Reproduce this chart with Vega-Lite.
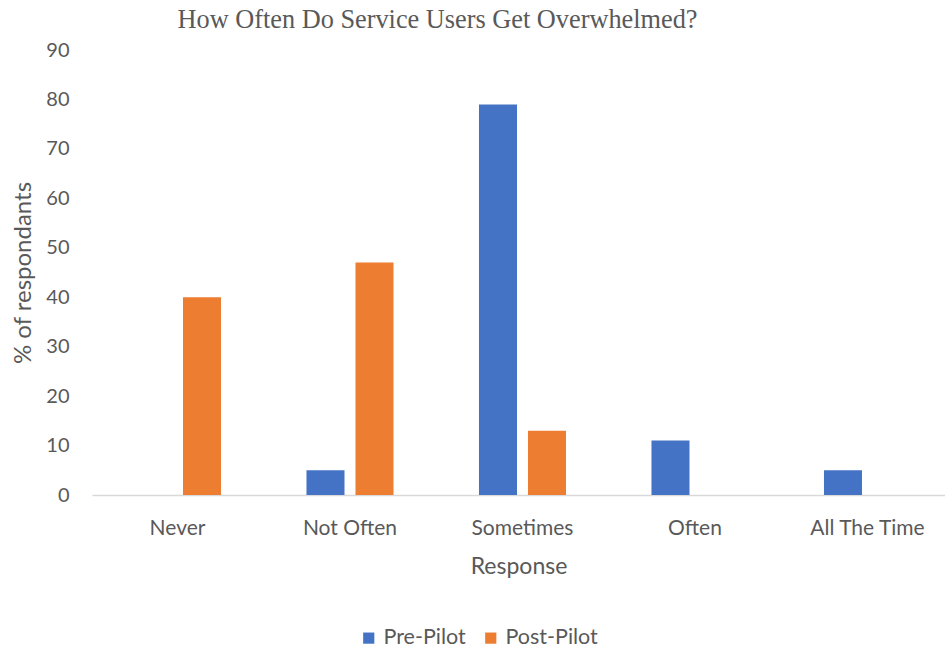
{
  "$schema": "https://vega.github.io/schema/vega-lite/v6.json",
  "width": 853,
  "height": 445,
  "autosize": {"type": "none"},
  "padding": {"left": 92, "top": 50, "right": 0, "bottom": 158},
  "background": "white",
  "title": {
    "text": "How Often Do Service Users Get Overwhelmed?",
    "font": "Liberation Serif",
    "fontSize": 26.3,
    "fontWeight": "normal",
    "color": "#595959",
    "anchor": "middle",
    "dx": -81,
    "dy": 32,
    "baseline": "alphabetic",
    "offset": 18
  },
  "data": {
    "values": [
      {"response": "Never", "period": "Pre-Pilot", "pct": 0},
      {"response": "Never", "period": "Post-Pilot", "pct": 40},
      {"response": "Not Often", "period": "Pre-Pilot", "pct": 5},
      {"response": "Not Often", "period": "Post-Pilot", "pct": 47},
      {"response": "Sometimes", "period": "Pre-Pilot", "pct": 79},
      {"response": "Sometimes", "period": "Post-Pilot", "pct": 13},
      {"response": "Often", "period": "Pre-Pilot", "pct": 11},
      {"response": "Often", "period": "Post-Pilot", "pct": 0},
      {"response": "All The Time", "period": "Pre-Pilot", "pct": 5},
      {"response": "All The Time", "period": "Post-Pilot", "pct": 0}
    ]
  },
  "mark": {"type": "bar"},
  "encoding": {
    "x": {
      "field": "response",
      "type": "nominal",
      "sort": ["Never", "Not Often", "Sometimes", "Often", "All The Time"],
      "scale": {"paddingInner": 0.4, "paddingOuter": 0.1725, "align": 0.567},
      "axis": {
        "title": "Response",
        "titleFont": "Lato",
        "titleFontSize": 23,
        "titleFontWeight": "normal",
        "titleColor": "#595959",
        "titlePadding": 17,
        "labelFont": "Lato",
        "labelFontSize": 21,
        "labelColor": "#595959",
        "labelAngle": 0,
        "labelPadding": 22,
        "ticks": false,
        "domainColor": "#d9d9d9",
        "domainWidth": 1.5
      }
    },
    "xOffset": {
      "field": "period",
      "type": "nominal",
      "sort": ["Pre-Pilot", "Post-Pilot"],
      "scale": {"paddingInner": 0.2245, "paddingOuter": 0.168}
    },
    "y": {
      "field": "pct",
      "type": "quantitative",
      "scale": {"domain": [0, 90], "nice": false},
      "axis": {
        "title": "% of respondants",
        "titleFont": "Lato",
        "titleFontSize": 24,
        "titleFontWeight": "normal",
        "titleColor": "#595959",
        "titlePadding": 10,
        "values": [0, 10, 20, 30, 40, 50, 60, 70, 80, 90],
        "labelFont": "Lato",
        "labelFontSize": 20,
        "labelColor": "#595959",
        "labelPadding": 23,
        "ticks": false,
        "domain": false,
        "grid": false
      }
    },
    "color": {
      "field": "period",
      "type": "nominal",
      "sort": ["Pre-Pilot", "Post-Pilot"],
      "scale": {"domain": ["Pre-Pilot", "Post-Pilot"], "range": ["#4472C4", "#ED7D31"]},
      "legend": {
        "title": null,
        "orient": "none",
        "legendX": 266,
        "legendY": 577,
        "direction": "horizontal",
        "symbolType": "square",
        "symbolSize": 125,
        "symbolStrokeWidth": 0,
        "labelFont": "Lato",
        "labelFontSize": 21.5,
        "labelColor": "#595959",
        "labelOffset": 4,
        "columnPadding": 14
      }
    }
  },
  "config": {"view": {"stroke": null}}
}
